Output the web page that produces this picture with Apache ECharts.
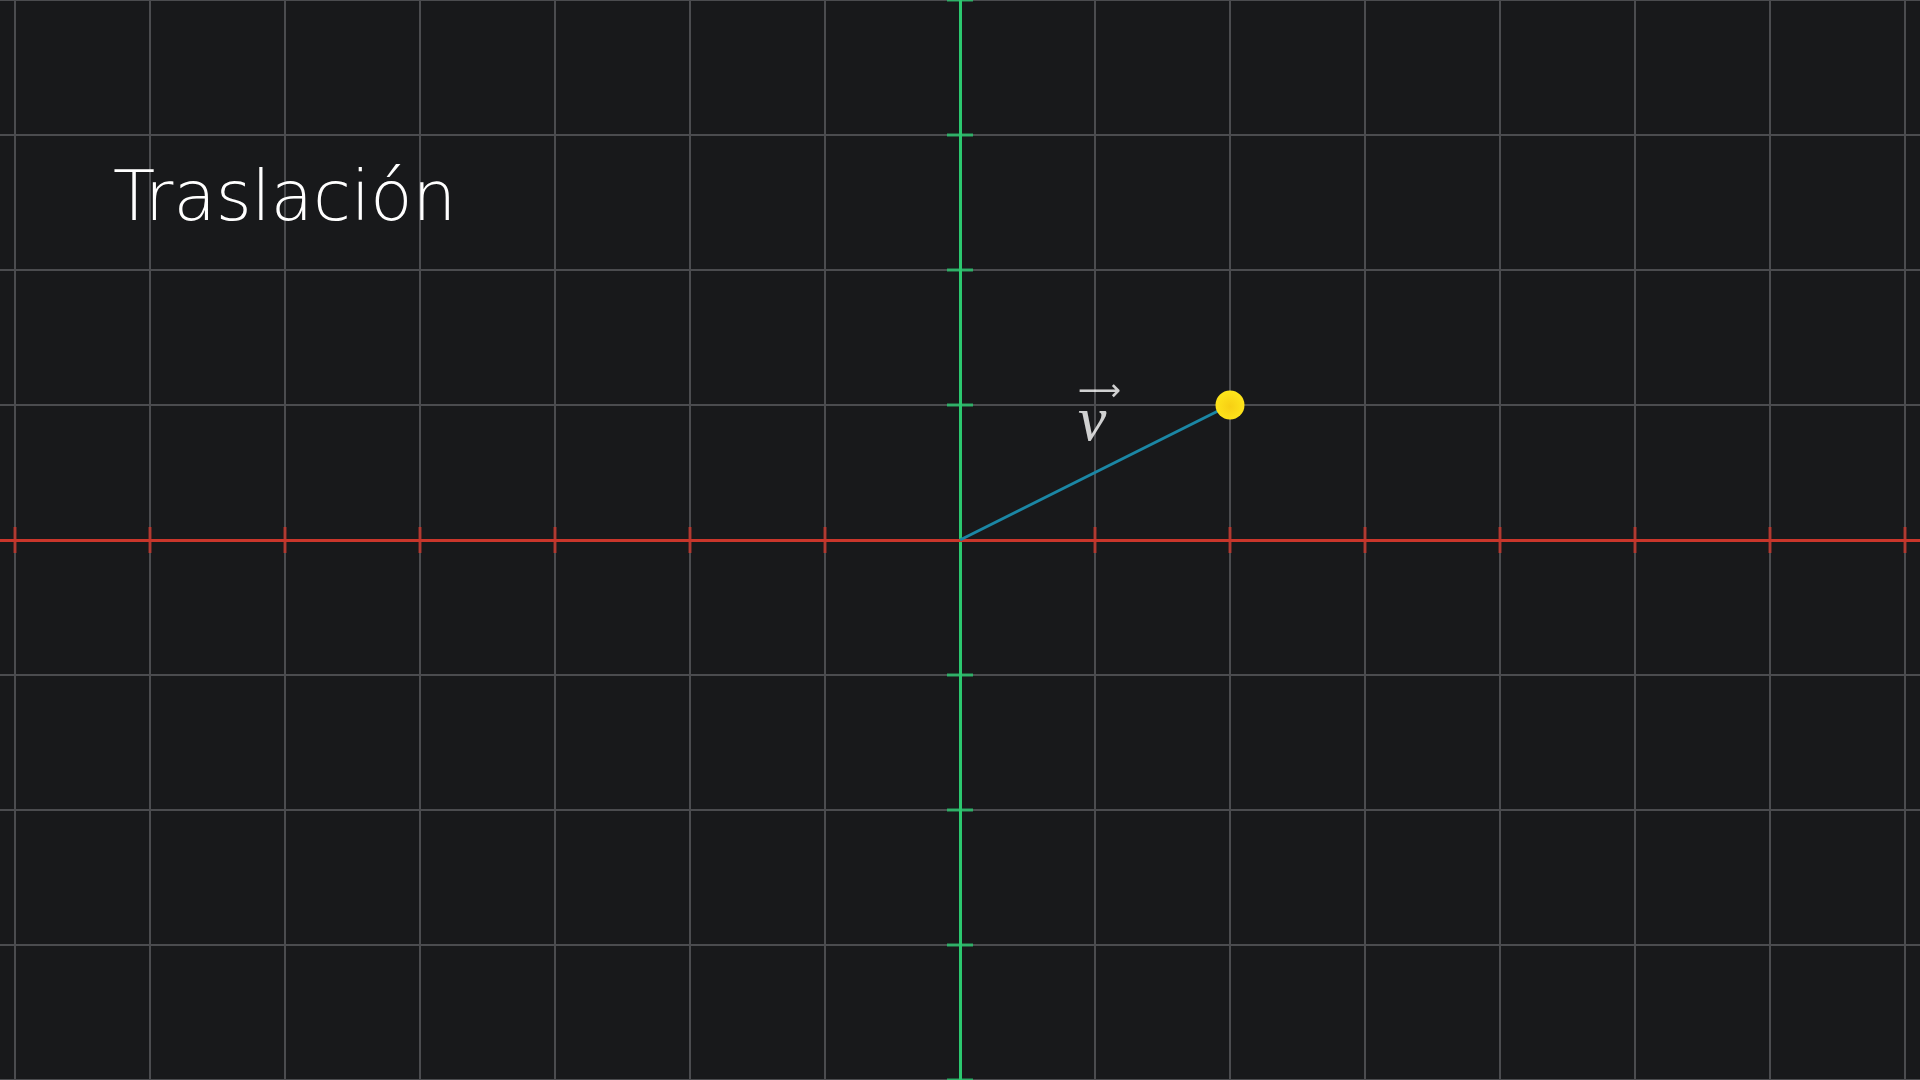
<!DOCTYPE html>
<html>
<head>
<meta charset="utf-8">
<script src="https://cdn.jsdelivr.net/npm/echarts@6/dist/echarts.min.js"></script>
<style>
  html, body { margin: 0; padding: 0; background: #18191b; }
  #plano { width: 1920px; height: 1080px; }
</style>
</head>
<body>
<div id="plano"></div>
<script>
// datos del plano
var xTicks = [-7, -6, -5, -4, -3, -2, -1, 1, 2, 3, 4, 5, 6, 7];
var yTicks = [-4, -3, -2, -1, 1, 2, 3, 4];
var origen = [0, 0];
var punto = [2, 1];
var etiqueta = [0.98, 0.92];

var chart = echarts.init(document.getElementById('plano'));

chart.setOption({
  backgroundColor: '#18191b',
  animation: false,
  title: {
    text: 'Traslación',
    left: 108,
    top: 163,
    textStyle: {
      color: '#ffffff',
      fontFamily: 'DejaVu Sans',
      fontWeight: 200,
      fontSize: 69
    }
  },
  // la cuadricula se sale del lienzo para que las lineas caigan en enteros
  grid: { left: -120, top: 0, width: 2160, height: 1080, outerBoundsMode: 'none', containLabel: false },
  xAxis: {
    type: 'value',
    min: -8, max: 8, interval: 1,
    axisLine: { onZero: true, lineStyle: { color: '#c9362b', width: 3 } },
    axisTick: { show: false },
    axisLabel: { show: false },
    splitLine: { lineStyle: { color: '#4b4c4f', width: 2 } }
  },
  yAxis: {
    type: 'value',
    min: -4, max: 4, interval: 1,
    axisLine: { onZero: true, lineStyle: { color: '#2bc86f', width: 3 } },
    axisTick: { show: false },
    axisLabel: { show: false },
    splitLine: { lineStyle: { color: '#4b4c4f', width: 2 } }
  },
  series: [
    {
      // marcas del eje x
      type: 'scatter',
      symbol: 'rect',
      symbolSize: [3, 26],
      silent: true,
      itemStyle: { color: '#c9362b' },
      data: xTicks.map(function (v) { return [v, 0]; }),
      z: 3
    },
    {
      // marcas del eje y
      type: 'scatter',
      symbol: 'rect',
      symbolSize: [26, 3],
      silent: true,
      itemStyle: { color: '#2bc86f' },
      data: yTicks.map(function (v) { return [0, v]; }),
      z: 3
    },
    {
      // vector v
      type: 'line',
      symbol: 'none',
      lineStyle: { color: '#1b87a5', width: 3 },
      data: [origen, punto],
      z: 4
    },
    {
      type: 'scatter',
      symbolSize: 29,
      itemStyle: {
        color: new echarts.graphic.RadialGradient(0.5, 0.55, 0.6, [
          { offset: 0, color: '#f7cf14' },
          { offset: 1, color: '#ffe81c' }
        ]),
        opacity: 1
      },
      data: [punto],
      z: 5
    },
    {
      type: 'scatter',
      symbolSize: 1,
      itemStyle: { color: 'transparent' },
      data: [etiqueta],
      label: {
        show: true,
        position: 'inside',
        formatter: '{a|⟶}\n{b|v}',
        rich: {
          a: { color: '#ffffff', fontSize: 30, fontFamily: 'DejaVu Sans', lineHeight: 14, padding: [0, 0, 0, 14] },
          b: { color: '#ffffff', fontSize: 64, fontStyle: 'italic', fontFamily: 'Liberation Serif', lineHeight: 48 }
        }
      },
      z: 6
    }
  ]
});
</script>
</body>
</html>
